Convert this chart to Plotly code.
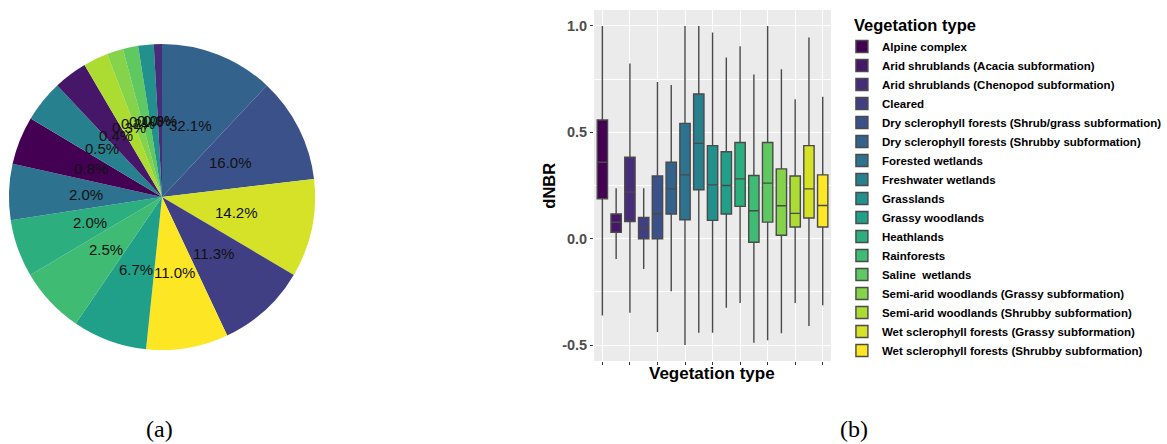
import math
import plotly.graph_objects as go
from plotly.colors import sample_colorscale

W, H = 1167, 444

# ---------------- data ----------------
veg_types = [
    "Alpine complex",
    "Arid shrublands (Acacia subformation)",
    "Arid shrublands (Chenopod subformation)",
    "Cleared",
    "Dry sclerophyll forests (Shrub/grass subformation)",
    "Dry sclerophyll forests (Shrubby subformation)",
    "Forested wetlands",
    "Freshwater wetlands",
    "Grasslands",
    "Grassy woodlands",
    "Heathlands",
    "Rainforests",
    "Saline  wetlands",
    "Semi-arid woodlands (Grassy subformation)",
    "Semi-arid woodlands (Shrubby subformation)",
    "Wet sclerophyll forests (Grassy subformation)",
    "Wet sclerophyll forests (Shrubby subformation)",
]

# pie (a): slices in drawing order (clockwise from 12 o'clock)
pie_categories = [
    "Dry sclerophyll forests (Shrubby subformation)",
    "Dry sclerophyll forests (Shrub/grass subformation)",
    "Wet sclerophyll forests (Grassy subformation)",
    "Cleared",
    "Wet sclerophyll forests (Shrubby subformation)",
    "Grassy woodlands",
    "Rainforests",
    "Heathlands",
    "Forested wetlands",
    "Alpine complex",
    "Freshwater wetlands",
    "Arid shrublands (Acacia subformation)",
    "Semi-arid woodlands (Shrubby subformation)",
    "Semi-arid woodlands (Grassy subformation)",
    "Saline  wetlands",
    "Grasslands",
    "Arid shrublands (Chenopod subformation)",
]
pie_sizes = [43.2, 40.0, 37.4, 34.2, 31.2, 28.3, 25.1, 21.9, 21.2, 18.4,
             15.9, 12.8, 9.4, 6.2, 5.8, 5.9, 3.1]
pie_labels = ["32.1%", "16.0%", "14.2%", "11.3%", "11.0%", "6.7%", "2.5%",
              "2.0%", "2.0%", "0.8%", "0.5%", "0.4%", "0.3%", "0.2%",
              "0.1%", "0.0%", "0.0%"]

# boxplot (b): dNBR statistics per vegetation type
dnbr_upper = [1.0, 0.2375, 0.824, 0.2375, 0.737, 0.722, 1.0, 1.0, 0.969,
              0.852, 0.905, 0.772, 1.0, 0.797, 0.655, 0.946, 0.667]
dnbr_q3 = [0.558, 0.116, 0.383, 0.10, 0.295, 0.359, 0.542, 0.680, 0.4375,
           0.409, 0.452, 0.297, 0.452, 0.328, 0.295, 0.4375, 0.30]
dnbr_median = [0.359, 0.077, 0.219, 0.05, 0.117, 0.234, 0.30, 0.448, 0.253,
               0.25, 0.281, 0.131, 0.261, 0.155, 0.119, 0.234, 0.156]
dnbr_q1 = [0.1875, 0.030, 0.081, 0.0, 0.0, 0.116, 0.089, 0.23, 0.086,
           0.116, 0.152, -0.017, 0.078, 0.016, 0.055, 0.097, 0.055]
dnbr_lower = [-0.361, -0.095, -0.348, -0.142, -0.439, -0.247, -0.5, -0.442,
              -0.442, -0.325, -0.302, -0.489, -0.477, -0.445, -0.302,
              -0.411, -0.3125]

y_ticks = [-0.5, 0.0, 0.5, 1.0]
y_tick_text = ["-0.5", "0.0", "0.5", "1.0"]

# ---------------- style ----------------
colors = sample_colorscale("Viridis", len(veg_types))
color_of = dict(zip(veg_types, colors))

SANS = "Liberation Sans"
SERIF = "Liberation Serif"

fig = go.Figure()

# ---- pie ----
pcx, pcy, pr = 163, 197, 154
pie_dom_x = [(pcx - pr) / W, (pcx + pr) / W]
pie_dom_y = [1 - (pcy + pr) / H, 1 - (pcy - pr) / H]
fig.add_trace(go.Pie(
    labels=pie_categories,
    values=pie_sizes,
    sort=False,
    direction="clockwise",
    rotation=0,
    marker=dict(colors=[color_of[c] for c in pie_categories],
                line=dict(width=0)),
    textinfo="none",
    hoverinfo="label+percent",
    showlegend=False,
    domain=dict(x=pie_dom_x, y=pie_dom_y),
))

annotations = []
total = sum(pie_sizes)
cum = 0.0
for size, lab in zip(pie_sizes, pie_labels):
    mid = (cum + size / 2) / total * 2 * math.pi
    cum += size
    px_ = pcx + 0.5 * pr * math.sin(mid)
    py_ = pcy - 0.5 * pr * math.cos(mid)
    annotations.append(dict(
        x=px_ / W, y=1 - py_ / H, xref="paper", yref="paper",
        text=lab, showarrow=False, xanchor="center", yanchor="middle",
        font=dict(family=SANS, size=15, color="#111111"),
    ))

# ---- boxplot ----
for i, vt in enumerate(veg_types):
    fig.add_trace(go.Box(
        x=[vt], name="<b>" + vt + "</b>",
        q1=[dnbr_q1[i]], median=[dnbr_median[i]], q3=[dnbr_q3[i]],
        lowerfence=[dnbr_lower[i]], upperfence=[dnbr_upper[i]],
        fillcolor=color_of[vt],
        line=dict(color="#4a4a4a", width=1.4),
        whiskerwidth=0, width=0.75, boxpoints=False,
        xaxis="x", yaxis="y",
    ))

x0p, x1p, y0p, y1p = 597.7, 836.0, 10.0, 361.0
fig.update_layout(
    width=W, height=H,
    margin=dict(l=0, r=0, t=0, b=0),
    paper_bgcolor="white",
    plot_bgcolor="#EBEBEB",
    boxmode="overlay",
    xaxis=dict(
        domain=[x0p / W, x1p / W],
        type="category", categoryorder="array", categoryarray=veg_types,
        range=[-0.6, len(veg_types) - 0.4],
        showticklabels=False, ticks="outside", ticklen=3,
        tickcolor="#333333", tickwidth=1,
        showgrid=True, gridcolor="white", gridwidth=1.1,
        zeroline=False, showline=False, fixedrange=True,
    ),
    yaxis=dict(
        domain=[1 - y1p / H, 1 - y0p / H],
        range=[-0.575, 1.075],
        tickvals=y_ticks, ticktext=["<b>" + t + "</b>" for t in y_tick_text],
        ticks="outside", ticklen=3, tickcolor="#333333", tickwidth=1,
        tickfont=dict(family=SANS, size=14.5, color="#4D4D4D"),
        showgrid=True, gridcolor="white", gridwidth=1.1,
        minor=dict(tickvals=[-0.25, 0.25, 0.75], showgrid=True,
                   gridcolor="white", gridwidth=0.5, ticks=""),
        zeroline=False, showline=False,
    ),
    legend=dict(
        font=dict(family=SANS, size=11.5, color="black"),
        x=847.0 / W, xanchor="left",
        y=1 - 32 / H, yanchor="top",
        bgcolor="rgba(255,255,255,0)",
        traceorder="normal",
        itemclick=False, itemdoubleclick=False,
    ),
)

annotations += [
    dict(x=856.7 / W, y=1 - 25 / H, xref="paper", yref="paper",
         text="<b>Vegetation type</b>", showarrow=False, xanchor="left",
         yanchor="middle",
         font=dict(family=SANS, size=16.5, color="black")),
    dict(x=552 / W, y=1 - 186 / H, xref="paper", yref="paper",
         text="<b>dNBR</b>",
         textangle=-90, showarrow=False, xanchor="center", yanchor="middle",
         font=dict(family=SANS, size=16.5, color="black")),
    dict(x=716.7 / W, y=1 - 373 / H, xref="paper", yref="paper",
         text="<b>Vegetation type</b>", showarrow=False, xanchor="center",
         yanchor="middle",
         font=dict(family=SANS, size=17, color="black")),
    dict(x=160 / W, y=1 - 429 / H, xref="paper", yref="paper", text="(a)",
         showarrow=False, xanchor="center", yanchor="middle",
         font=dict(family=SERIF, size=24, color="black")),
    dict(x=859 / W, y=1 - 429 / H, xref="paper", yref="paper", text="(b)",
         showarrow=False, xanchor="center", yanchor="middle",
         font=dict(family=SERIF, size=24, color="black")),
]
fig.update_layout(annotations=annotations)

fig.write_html("out.html")
